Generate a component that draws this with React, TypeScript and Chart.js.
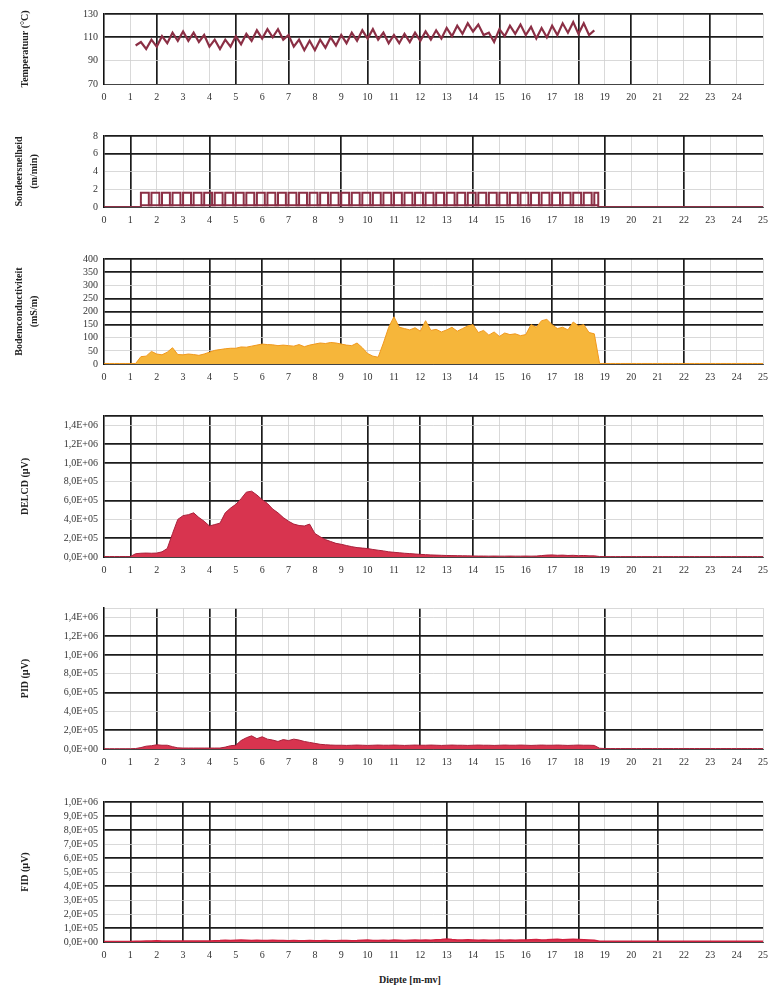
import React, { useEffect, useRef } from 'react';
import { Chart, registerables } from 'chart.js';

Chart.register(...registerables);

// ---------- DATA ----------
const DEPTH = [
  0, 0.2, 0.4, 0.6, 0.8, 1, 1.2, 1.4, 1.6, 1.8,
  2, 2.2, 2.4, 2.6, 2.8, 3, 3.2, 3.4, 3.6, 3.8,
  4, 4.2, 4.4, 4.6, 4.8, 5, 5.2, 5.4, 5.6, 5.8,
  6, 6.2, 6.4, 6.6, 6.8, 7, 7.2, 7.4, 7.6, 7.8,
  8, 8.2, 8.4, 8.6, 8.8, 9, 9.2, 9.4, 9.6, 9.8,
  10, 10.2, 10.4, 10.6, 10.8, 11, 11.2, 11.4, 11.6, 11.8,
  12, 12.2, 12.4, 12.6, 12.8, 13, 13.2, 13.4, 13.6, 13.8,
  14, 14.2, 14.4, 14.6, 14.8, 15, 15.2, 15.4, 15.6, 15.8,
  16, 16.2, 16.4, 16.6, 16.8, 17, 17.2, 17.4, 17.6, 17.8,
  18, 18.2, 18.4, 18.6, 18.8, 19, 19.2, 19.4, 19.6, 19.8,
  20, 20.2, 20.4, 20.6, 20.8, 21, 21.2, 21.4, 21.6, 21.8,
  22, 22.2, 22.4, 22.6, 22.8, 23, 23.2, 23.4, 23.6, 23.8,
  24, 24.2, 24.4, 24.6, 24.8, 25,
];

// Temperature (°C) from 1.2 m to 18.6 m (DEPTH index 6..93)
const TEMP_START_INDEX = 6;
const TEMPERATURE = [
  103, 106, 100, 108, 102, 111, 105, 114, 107, 115,
  107, 114, 106, 112, 102, 108, 100, 108, 102, 111,
  104, 113, 107, 116, 109, 117, 110, 117, 108, 112,
  102, 108, 99, 107, 99, 108, 101, 110, 103, 112,
  105, 114, 107, 116, 109, 117, 108, 114, 105, 112,
  105, 113, 106, 114, 107, 115, 108, 116, 109, 118,
  111, 120, 113, 122, 115, 121, 112, 114, 106, 117,
  111, 120, 113, 121, 112, 119, 109, 118, 110, 120,
  112, 122, 114, 123, 113, 122, 112, 116,
];

// Push rate (m/min), stepped
const PUSH_DEPTH = [
  0,
  1.4, 1.7, 1.8, 2.1, 2.2, 2.5, 2.6, 2.9, 3.0, 3.3,
  3.4, 3.7, 3.8, 4.1, 4.2, 4.5, 4.6, 4.9, 5.0, 5.3,
  5.4, 5.7, 5.8, 6.1, 6.2, 6.5, 6.6, 6.9, 7.0, 7.3,
  7.4, 7.7, 7.8, 8.1, 8.2, 8.5, 8.6, 8.9, 9.0, 9.3,
  9.4, 9.7, 9.8, 10.1, 10.2, 10.5, 10.6, 10.9, 11.0, 11.3,
  11.4, 11.7, 11.8, 12.1, 12.2, 12.5, 12.6, 12.9, 13.0, 13.3,
  13.4, 13.7, 13.8, 14.1, 14.2, 14.5, 14.6, 14.9, 15.0, 15.3,
  15.4, 15.7, 15.8, 16.1, 16.2, 16.5, 16.6, 16.9, 17.0, 17.3,
  17.4, 17.7, 17.8, 18.1, 18.2, 18.5,
  18.6, 18.75, 25,
];
const PUSH_RATE = [
  0,
  1.6, 0.2, 1.6, 0.2, 1.6, 0.2, 1.6, 0.2, 1.6, 0.2,
  1.6, 0.2, 1.6, 0.2, 1.6, 0.2, 1.6, 0.2, 1.6, 0.2,
  1.6, 0.2, 1.6, 0.2, 1.6, 0.2, 1.6, 0.2, 1.6, 0.2,
  1.6, 0.2, 1.6, 0.2, 1.6, 0.2, 1.6, 0.2, 1.6, 0.2,
  1.6, 0.2, 1.6, 0.2, 1.6, 0.2, 1.6, 0.2, 1.6, 0.2,
  1.6, 0.2, 1.6, 0.2, 1.6, 0.2, 1.6, 0.2, 1.6, 0.2,
  1.6, 0.2, 1.6, 0.2, 1.6, 0.2, 1.6, 0.2, 1.6, 0.2,
  1.6, 0.2, 1.6, 0.2, 1.6, 0.2, 1.6, 0.2, 1.6, 0.2,
  1.6, 0.2, 1.6, 0.2, 1.6, 0.2,
  1.6, 0, 0,
];
const PUSH_BASE_DEPTH = [1.4, 18.75];
const PUSH_BASE = [0.2, 0.2];

// Soil conductivity (mS/m)
const CONDUCTIVITY = [
  2, 2, 2, 2, 2, 2, 2, 28, 30, 48,
  38, 35, 45, 62, 36, 35, 38, 36, 33, 38,
  45, 52, 55, 58, 60, 60, 65, 64, 68, 72,
  76, 74, 73, 70, 72, 70, 68, 74, 66, 72,
  76, 80, 78, 82, 80, 76, 72, 70, 80, 62,
  40, 30, 26, 80, 140, 180, 140, 135, 130, 138,
  125, 165, 128, 132, 122, 130, 140, 125, 135, 145,
  150, 120, 128, 110, 122, 105, 118, 112, 115, 108,
  112, 150, 140, 165, 170, 150, 135, 140, 130, 160,
  145, 150, 120, 115, 2, 2, 2, 2, 2, 2,
  2, 2, 2, 2, 2, 2, 2, 2, 2, 2,
  2, 2, 2, 2, 2, 2, 2, 2, 2, 2,
  2, 2, 2, 2, 2, 2,
];

// DELCD (µV)
const DELCD = [
  5000, 5000, 5000, 5000, 5000, 5000, 35000, 40000, 42000, 40000,
  42000, 55000, 90000, 250000, 400000, 440000, 450000, 470000, 420000, 380000,
  330000, 345000, 360000, 470000, 520000, 560000, 620000, 690000, 700000, 660000,
  610000, 570000, 510000, 470000, 420000, 380000, 350000, 335000, 330000, 350000,
  250000, 215000, 185000, 165000, 145000, 135000, 122000, 110000, 100000, 95000,
  90000, 80000, 72000, 65000, 55000, 50000, 45000, 40000, 36000, 32000,
  28000, 25000, 22000, 20000, 18000, 16000, 15000, 14000, 13000, 12000,
  11000, 10000, 10000, 9000, 10000, 9000, 9000, 10000, 9000, 9000,
  10000, 9000, 10000, 15000, 20000, 22000, 18000, 20000, 16000, 18000,
  14000, 16000, 12000, 12000, 5000, 4000, 4000, 4000, 4000, 4000,
  4000, 4000, 4000, 4000, 4000, 4000, 4000, 4000, 4000, 4000,
  4000, 4000, 4000, 4000, 4000, 4000, 4000, 4000, 4000, 4000,
  4000, 4000, 4000, 4000, 4000, 4000,
];

// PID (µV)
const PID = [
  3000, 3000, 3000, 3000, 3000, 3000, 5000, 15000, 30000, 35000,
  45000, 40000, 40000, 25000, 12000, 10000, 10000, 10000, 10000, 10000,
  10000, 10000, 10000, 20000, 35000, 40000, 90000, 120000, 140000, 110000,
  130000, 105000, 95000, 80000, 100000, 90000, 105000, 95000, 80000, 70000,
  60000, 50000, 45000, 42000, 40000, 40000, 38000, 40000, 42000, 40000,
  38000, 40000, 42000, 40000, 40000, 42000, 40000, 38000, 40000, 42000,
  40000, 40000, 42000, 40000, 38000, 40000, 42000, 40000, 40000, 38000,
  40000, 42000, 40000, 40000, 38000, 40000, 42000, 40000, 40000, 42000,
  40000, 38000, 40000, 42000, 40000, 40000, 42000, 40000, 38000, 40000,
  42000, 40000, 40000, 38000, 8000, 5000, 5000, 5000, 5000, 5000,
  5000, 5000, 5000, 5000, 5000, 5000, 5000, 5000, 5000, 5000,
  5000, 5000, 5000, 5000, 5000, 5000, 5000, 5000, 5000, 5000,
  5000, 5000, 5000, 5000, 5000, 5000,
];

// FID (µV)
const FID = [
  4000, 4000, 4000, 4000, 4000, 4000, 5000, 6000, 8000, 8000,
  9000, 8000, 8000, 7000, 7000, 8000, 8000, 7000, 7000, 8000,
  8000, 9000, 10000, 12000, 10000, 12000, 14000, 12000, 10000, 12000,
  10000, 10000, 12000, 10000, 10000, 9000, 10000, 9000, 9000, 10000,
  9000, 9000, 10000, 9000, 9000, 10000, 10000, 9000, 10000, 12000,
  14000, 10000, 10000, 12000, 10000, 14000, 12000, 10000, 12000, 14000,
  12000, 14000, 12000, 16000, 18000, 22000, 18000, 15000, 14000, 16000,
  14000, 12000, 14000, 12000, 12000, 14000, 12000, 14000, 13000, 14000,
  14000, 16000, 18000, 15000, 16000, 18000, 20000, 16000, 18000, 20000,
  18000, 16000, 14000, 12000, 6000, 5000, 5000, 5000, 5000, 5000,
  5000, 5000, 5000, 5000, 5000, 5000, 5000, 5000, 5000, 5000,
  5000, 5000, 5000, 5000, 5000, 5000, 5000, 5000, 5000, 5000,
  5000, 5000, 5000, 5000, 5000, 5000,
];

// Tick values
const X_TICKS = [0, 1, 2, 3, 4, 5, 6, 7, 8, 9, 10, 11, 12, 13, 14, 15, 16, 17, 18, 19, 20, 21, 22, 23, 24, 25];
const TEMP_TICKS = [70, 90, 110, 130];
const PUSH_TICKS = [0, 2, 4, 6, 8];
const COND_TICKS = [0, 50, 100, 150, 200, 250, 300, 350, 400];
const DETECTOR_TICKS = [0, 200000, 400000, 600000, 800000, 1000000, 1200000, 1400000, 1500000];
const FID_TICKS = [0, 100000, 200000, 300000, 400000, 500000, 600000, 700000, 800000, 900000, 1000000];

// ---------- STYLE / LAYOUT ----------
const SERIF = "'Liberation Serif', 'DejaVu Serif', serif";
const PLOT_LEFT = 104;
const PLOT_RIGHT = 763;
const PAD_TOP = 8;
const XAXIS_H = 24;
const THICK = '#1c1c1c';
const THIN = '#cfcfcf';
const MAROON = '#8b2f45';
const RED_FILL = '#d8344f';
const RED_LINE = '#a8203a';

function sci(v: number): string {
  if (v === 0) return '0,0E+00';
  const e = Math.floor(Math.log10(v) + 1e-9);
  const m = v / Math.pow(10, e);
  return m.toFixed(1).replace('.', ',') + 'E+' + (e < 10 ? '0' + e : String(e));
}

function pts(xs: number[], ys: number[]) {
  return xs.map((x, i) => ({ x, y: ys[i] }));
}

const tempPts = TEMPERATURE.map((y, i) => ({ x: DEPTH[TEMP_START_INDEX + i], y }));

type PanelDef = {
  key: string;
  top: number;
  bottom: number;
  yMin: number;
  yMax: number;
  yTicks: number[];
  fmt: (v: number) => string;
  title: string | string[];
  titlePad: number;
  thickX: number[];
  thickY: number[];
  hideX25?: boolean;
  datasets: any[];
};

const areaDs = (data: number[], fill: string, line: string, width = 1) => ({
  data: pts(DEPTH, data),
  borderColor: line,
  backgroundColor: fill,
  borderWidth: width,
  fill: 'origin',
  pointRadius: 0,
  tension: 0,
});

const PANELS: PanelDef[] = [
  {
    key: 'temp', top: 10, bottom: 84, yMin: 70, yMax: 130, yTicks: TEMP_TICKS,
    fmt: (v) => String(v), title: 'Temperatuur (°C)', titlePad: 18,
    thickX: [2, 5, 7, 10, 12, 15, 18, 20, 23], thickY: [110, 130], hideX25: true,
    datasets: [{ data: tempPts, borderColor: MAROON, borderWidth: 2.2, pointRadius: 0, fill: false, tension: 0 }],
  },
  {
    key: 'push', top: 132, bottom: 207, yMin: 0, yMax: 8, yTicks: PUSH_TICKS,
    fmt: (v) => String(v), title: ['Sondeersnelheid', '(m/min)'], titlePad: 12,
    thickX: [1, 4, 9, 14, 19, 22], thickY: [6, 8],
    datasets: [
      { data: pts(PUSH_DEPTH, PUSH_RATE), stepped: 'before', borderColor: MAROON, borderWidth: 2, pointRadius: 0, fill: false },
      { data: pts(PUSH_BASE_DEPTH, PUSH_BASE), borderColor: MAROON, borderWidth: 2, pointRadius: 0, fill: false },
    ],
  },
  {
    key: 'cond', top: 255, bottom: 364, yMin: 0, yMax: 400, yTicks: COND_TICKS,
    fmt: (v) => String(v), title: ['Bodemconductiviteit', '(mS/m)'], titlePad: 12,
    thickX: [1, 4, 6, 9, 11, 14, 17, 19, 22], thickY: [150, 200, 250, 350, 400],
    datasets: [areaDs(CONDUCTIVITY, '#f6b63a', '#f0981c', 1)],
  },
  {
    key: 'delcd', top: 412, bottom: 557, yMin: 0, yMax: 1500000, yTicks: DETECTOR_TICKS,
    fmt: (v) => (v > 1400000 ? '' : sci(v)), title: 'DELCD (µV)', titlePad: 18,
    thickX: [1, 4, 6, 10, 12, 14, 19], thickY: [200000, 600000, 1000000, 1200000, 1500000],
    datasets: [areaDs(DELCD, RED_FILL, RED_LINE, 1)],
  },
  {
    key: 'pid', top: 604, bottom: 749, yMin: 0, yMax: 1500000, yTicks: DETECTOR_TICKS,
    fmt: (v) => (v > 1400000 ? '' : sci(v)), title: 'PID (µV)', titlePad: 18,
    thickX: [2, 4, 5, 12, 19], thickY: [200000, 600000, 1000000, 1200000],
    datasets: [areaDs(PID, RED_FILL, RED_LINE, 1)],
  },
  {
    key: 'fid', top: 798, bottom: 942, yMin: 0, yMax: 1000000, yTicks: FID_TICKS,
    fmt: (v) => sci(v), title: 'FID (µV)', titlePad: 18,
    thickX: [1, 3, 4, 13, 16, 18, 21], thickY: [100000, 400000, 600000, 800000, 900000, 1000000],
    datasets: [areaDs(FID, RED_FILL, '#d0203f', 1.5)],
  },
];

function ChartPanel({ p }: { p: PanelDef }) {
  const ref = useRef<HTMLCanvasElement | null>(null);
  const height = p.bottom - p.top + PAD_TOP + XAXIS_H;

  useEffect(() => {
    if (!ref.current) return;
    const font = { family: SERIF, size: 10 };
    const chart = new Chart(ref.current, {
      type: 'line',
      data: { datasets: p.datasets },
      options: {
        animation: false,
        responsive: false,
        maintainAspectRatio: false,
        layout: { padding: { top: PAD_TOP, right: 777 - PLOT_RIGHT, left: 0, bottom: 0 } },
        plugins: { legend: { display: false }, tooltip: { enabled: false } },
        elements: { point: { radius: 0 } },
        scales: {
          x: {
            type: 'linear',
            min: 0,
            max: 25,
            afterBuildTicks: (s: any) => { s.ticks = X_TICKS.map((v) => ({ value: v })); },
            afterFit: (s: any) => { s.height = XAXIS_H; },
            ticks: {
              autoSkip: false,
              maxRotation: 0,
              padding: 7,
              color: '#333',
              font,
              callback: (v: any) => (p.hideX25 && v === 25 ? '' : String(v)),
            },
            grid: {
              drawTicks: false,
              color: (ctx: any) => (ctx.tick && p.thickX.includes(ctx.tick.value) ? THICK : THIN),
              lineWidth: (ctx: any) => (ctx.tick && p.thickX.includes(ctx.tick.value) ? 1.7 : 0.8),
            },
            border: { display: true, color: '#444', width: 1 },
          },
          y: {
            type: 'linear',
            min: p.yMin,
            max: p.yMax,
            afterBuildTicks: (s: any) => { s.ticks = p.yTicks.map((v) => ({ value: v })); },
            afterFit: (s: any) => { s.width = PLOT_LEFT; },
            ticks: {
              autoSkip: false,
              padding: 6,
              color: '#333',
              font,
              callback: (v: any) => p.fmt(Number(v)),
            },
            grid: {
              drawTicks: false,
              color: (ctx: any) => (ctx.tick && p.thickY.includes(ctx.tick.value) ? THICK : THIN),
              lineWidth: (ctx: any) => (ctx.tick && p.thickY.includes(ctx.tick.value) ? 1.7 : 0.8),
            },
            border: { display: true, color: '#111', width: 1.5 },
            title: {
              display: true,
              text: p.title,
              color: '#222',
              font: { family: SERIF, size: 10, weight: 'bold', lineHeight: 1.5 },
              padding: { top: p.titlePad, bottom: 0 },
            },
          },
        },
      } as any,
    });
    return () => chart.destroy();
  }, []);

  return (
    <canvas
      ref={ref}
      width={777}
      height={height}
      style={{ position: 'absolute', left: 0, top: p.top - PAD_TOP, width: 777, height }}
    />
  );
}

export default function App() {
  return (
    <div style={{ position: 'absolute', left: 0, top: 0, width: 777, height: 991, background: '#fff', overflow: 'hidden' }}>
      {PANELS.map((p) => (
        <ChartPanel key={p.key} p={p} />
      ))}
      <div
        style={{
          position: 'absolute',
          top: 974,
          left: 330,
          width: 160,
          textAlign: 'center',
          fontFamily: SERIF,
          fontWeight: 'bold',
          fontSize: 10,
          color: '#222',
        }}
      >
        Diepte [m-mv]
      </div>
    </div>
  );
}
